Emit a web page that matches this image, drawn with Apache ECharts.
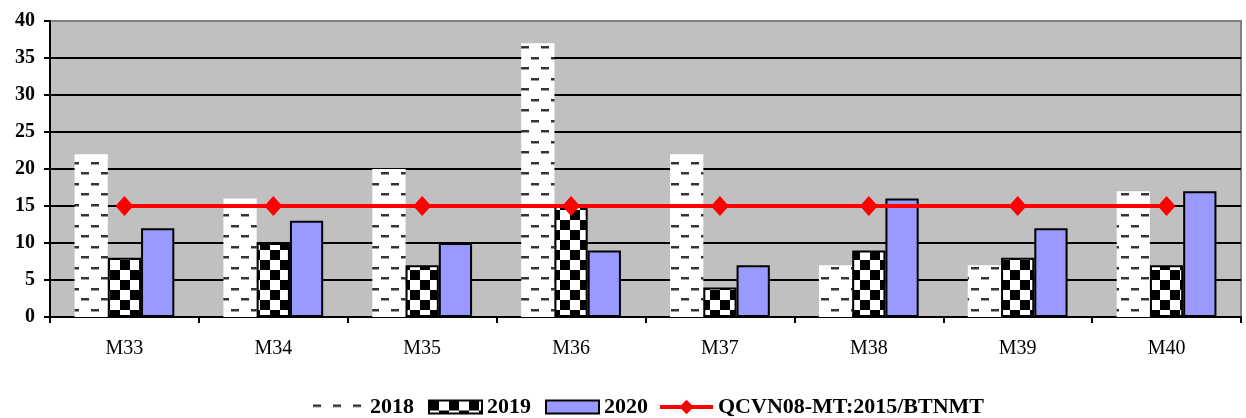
<!DOCTYPE html>
<html>
<head>
<meta charset="utf-8">
<script src="https://cdn.jsdelivr.net/npm/echarts@6/dist/echarts.min.js"></script>
<style>
  html, body { margin: 0; padding: 0; background: #fff; }
  #chart { width: 1246px; height: 418px; }
</style>
</head>
<body>
<div id="chart"></div>
<script>
// Sampling points and measured values per year, plus the QCVN limit
const categories = ['M33', 'M34', 'M35', 'M36', 'M37', 'M38', 'M39', 'M40'];
const values2018 = [22, 16, 20, 37, 22, 7, 7, 17];
const values2019 = [8, 10, 7, 15, 4, 9, 8, 7];
const values2020 = [12, 13, 10, 9, 7, 16, 12, 17];
const limitQCVN = [15, 15, 15, 15, 15, 15, 15, 15];
const seriesNames = ['2018', '2019', '2020', 'QCVN08-MT:2015/BTNMT'];

// White fill with staggered short horizontal dashes
function dashPattern() {
  const c = document.createElement('canvas');
  c.width = 20; c.height = 21;
  const g = c.getContext('2d');
  g.fillStyle = '#ffffff';
  g.fillRect(0, 0, 20, 21);
  g.fillStyle = '#333333';
  g.fillRect(1, 4, 8, 2);
  g.fillRect(11, 15, 8, 2);
  g.fillStyle = '#9a9a9a';
  g.fillRect(1, 6, 8, 1);
  g.fillRect(11, 17, 8, 1);
  return { image: c, repeat: 'repeat' };
}

// Black and white checkerboard
function checkerPattern() {
  const c = document.createElement('canvas');
  c.width = 20; c.height = 20;
  const g = c.getContext('2d');
  g.fillStyle = '#ffffff';
  g.fillRect(0, 0, 20, 20);
  g.fillStyle = '#000000';
  g.fillRect(0, 0, 10, 10);
  g.fillRect(10, 10, 10, 10);
  return { image: c, repeat: 'repeat' };
}

const chart = echarts.init(document.getElementById('chart'), null, { renderer: 'canvas' });
const serif = '"Liberation Serif", "Times New Roman", serif';
const legendText = { fontFamily: serif, fontWeight: 'bold', fontSize: 22, color: '#000' };

chart.setOption({
  animation: false,
  backgroundColor: '#ffffff',
  grid: {
    left: 50, right: 5, top: 21, bottom: 101,
    show: true,
    backgroundColor: '#C0C0C0',
    borderColor: '#808080',
    borderWidth: 2
  },
  legend: [
    {
      top: 391,
      left: 307,
      itemWidth: 53,
      itemHeight: 13,
      itemGap: 14,
      textStyle: legendText,
      data: [
        { name: seriesNames[0], icon: 'rect' },
        { name: seriesNames[1], icon: 'rect' },
        { name: seriesNames[2], icon: 'rect' }
      ]
    },
    {
      top: 391,
      left: 653,
      itemWidth: 53,
      itemHeight: 18,
      textStyle: legendText,
      data: [{ name: seriesNames[3], lineStyle: { width: 4 } }]
    }
  ],
  xAxis: {
    type: 'category',
    data: categories,
    axisLine: { lineStyle: { color: '#000', width: 2 } },
    axisTick: { show: true, length: 6, lineStyle: { color: '#000', width: 2 } },
    axisLabel: { fontFamily: serif, fontSize: 20, color: '#000', margin: 22 }
  },
  yAxis: {
    type: 'value',
    min: 0, max: 40, interval: 5,
    axisLine: { show: true, lineStyle: { color: '#000', width: 2 } },
    axisTick: { show: true, length: 6, lineStyle: { color: '#000', width: 2 } },
    axisLabel: { fontFamily: serif, fontSize: 20, fontWeight: 'bold', color: '#000', margin: 15 },
    splitLine: { show: true, showMaxLine: false, lineStyle: { color: '#000', width: 2 } }
  },
  series: [
    {
      name: seriesNames[0], type: 'bar', data: values2018,
      barGap: '0%', barCategoryGap: '33%',
      itemStyle: { color: dashPattern(), borderWidth: 0 }
    },
    {
      name: seriesNames[1], type: 'bar', data: values2019,
      itemStyle: { color: checkerPattern(), borderColor: '#000', borderWidth: 2 }
    },
    {
      name: seriesNames[2], type: 'bar', data: values2020,
      itemStyle: { color: '#9999FF', borderColor: '#000', borderWidth: 2 }
    },
    {
      name: seriesNames[3], type: 'line', data: limitQCVN, z: 10,
      symbol: 'diamond', symbolSize: [18, 20],
      lineStyle: { color: '#FF0000', width: 4 },
      itemStyle: { color: '#FF0000' }
    }
  ]
});
</script>
</body>
</html>
